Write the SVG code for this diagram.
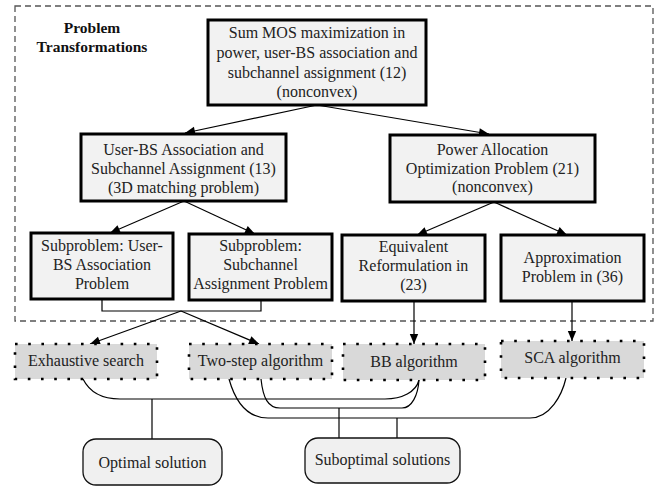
<svg xmlns="http://www.w3.org/2000/svg" width="667" height="487" viewBox="0 0 667 487">
<defs>
<style>
text{font-family:"Liberation Serif","Times New Roman",serif;font-size:16px;fill:#222;text-anchor:middle}
.b{font-weight:bold;font-size:15.5px;fill:#111}
.box{fill:#f2f2f2;stroke:#000;stroke-width:3}
.dot{fill:#d9d9d9;stroke:#000;stroke-width:2.6;stroke-dasharray:2.6 10.6}
.rnd{fill:#f0f0f0;stroke:#111;stroke-width:1.3}
.ln{fill:none;stroke:#000;stroke-width:1.2}
.ar{fill:none;stroke:#000;stroke-width:1.2;marker-end:url(#ah)}
</style>
<marker id="ah" viewBox="0 0 10 10" refX="10" refY="5" markerWidth="11" markerHeight="10" markerUnits="userSpaceOnUse" orient="auto">
<path d="M0,0.8 L10,5 L0,9.2 z" fill="#000"/>
</marker>
</defs>
<rect x="0" y="0" width="667" height="487" fill="#fff"/>
<g id="frame">
<rect x="15" y="6" width="638" height="315" fill="none" stroke="#555" stroke-width="1.3" stroke-dasharray="6 4"/>
<text class="b" x="92" y="33">Problem</text>
<text class="b" x="92" y="52">Transformations</text>
</g>
<g id="connectors">
<path class="ar" d="M317,105 L185,133"/>
<path class="ar" d="M317,105 L489,134"/>
<path class="ar" d="M184,201 L110,233"/>
<path class="ar" d="M184,201 L255,234"/>
<path class="ar" d="M494,202 L417,235"/>
<path class="ar" d="M494,202 L567,235"/>
<path class="ln" d="M102,299 V311 H261 V300"/>
<path class="ar" d="M181,311 L90,344"/>
<path class="ar" d="M181,311 L259,344"/>
<path class="ar" d="M414,301 V344"/>
<path class="ar" d="M572,301 V341"/>
<path class="ln" d="M83,379 C90,393 102,399 120,399 H385 C402,399 416,392 419,380"/>
<path class="ln" d="M261,379 C263,398 268,408 280,408 H402 C412,408 418,395 419,380"/>
<path class="ln" d="M229,379 C236,404 248,418 268,418 H530 C550,418 562,395 566,378"/>
<path class="ln" d="M152,399 V439" stroke-width="2"/>
<path class="ln" d="M339,408 V438" stroke-width="2"/>
<path class="ln" d="M397,418 V438"/>
</g>
<g id="n_top">
<rect class="box" x="208" y="20" width="218" height="85"/>
<text x="317" y="38">Sum MOS maximization in</text>
<text x="317" y="58">power, user-BS association and</text>
<text x="317" y="78">subchannel assignment (12)</text>
<text x="317" y="97">(nonconvex)</text>
</g>
<g id="n_assoc">
<rect class="box" x="81" y="134" width="205" height="67"/>
<text x="183.5" y="155">User-BS Association and</text>
<text x="183.5" y="174">Subchannel Assignment (13)</text>
<text x="183.5" y="193">(3D matching problem)</text>
</g>
<g id="n_power">
<rect class="box" x="390" y="135" width="205" height="67"/>
<text x="492.5" y="155">Power Allocation</text>
<text x="492.5" y="174">Optimization Problem (21)</text>
<text x="492.5" y="192">(nonconvex)</text>
</g>
<g id="n_subA">
<rect class="box" x="31" y="233" width="142" height="66"/>
<text x="102" y="251">Subproblem: User-</text>
<text x="102" y="270">BS Association</text>
<text x="102" y="289">Problem</text>
</g>
<g id="n_subB">
<rect class="box" x="189" y="234" width="143" height="66"/>
<text x="260.5" y="251">Subproblem:</text>
<text x="260.5" y="270">Subchannel</text>
<text x="260.5" y="289">Assignment Problem</text>
</g>
<g id="n_equiv">
<rect class="box" x="342" y="235" width="143" height="66"/>
<text x="413.5" y="252">Equivalent</text>
<text x="413.5" y="271">Reformulation in</text>
<text x="413.5" y="290">(23)</text>
</g>
<g id="n_approx">
<rect class="box" x="501" y="235" width="143" height="66"/>
<text x="572.5" y="263">Approximation</text>
<text x="572.5" y="282">Problem in (36)</text>
</g>
<g id="n_exh">
<rect class="dot" x="15" y="344" width="142" height="35"/>
<text x="86" y="366">Exhaustive search</text>
</g>
<g id="n_two">
<rect class="dot" x="189" y="344" width="143" height="35"/>
<text x="260.5" y="366">Two-step algorithm</text>
</g>
<g id="n_bb">
<rect class="dot" x="343" y="344" width="142" height="36"/>
<text x="414" y="367">BB algorithm</text>
</g>
<g id="n_sca">
<rect class="dot" x="501" y="341" width="143" height="37"/>
<text x="572.5" y="363">SCA algorithm</text>
</g>
<g id="n_opt">
<rect class="rnd" x="83" y="439" width="139" height="46" rx="13"/>
<text x="152.5" y="468">Optimal solution</text>
</g>
<g id="n_sub">
<rect class="rnd" x="305" y="438" width="155" height="45" rx="13"/>
<text x="382.5" y="465">Suboptimal solutions</text>
</g>
</svg>
